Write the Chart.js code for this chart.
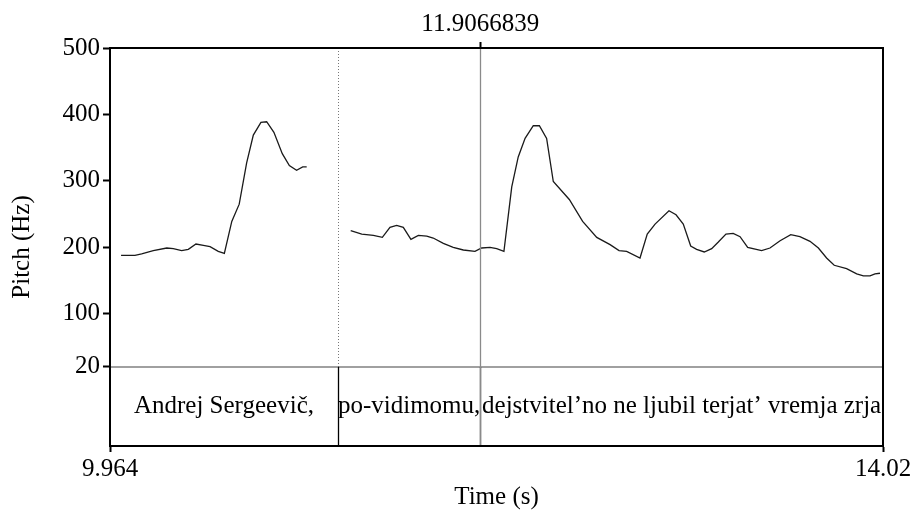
<!DOCTYPE html>
<html>
<head>
<meta charset="utf-8">
<script src="https://cdn.jsdelivr.net/npm/chart.js@4"></script>
<style>
    html, body { margin: 0; padding: 0; background: #fff; }
    canvas { display: block; }
</style>
</head>
<body>
<canvas id="pitch-chart" width="915" height="512"></canvas>
<script>
// Pitch contour, first voiced stretch (s, Hz)
const seg1Times = [10.022, 10.095, 10.130, 10.191, 10.262, 10.296, 10.340, 10.375, 10.415, 10.454,
    10.489, 10.532, 10.564, 10.603, 10.642, 10.681, 10.716, 10.756, 10.786, 10.824,
    10.868, 10.905, 10.943, 10.975, 10.996];
const seg1Pitch = [188, 188, 190, 195, 199, 198, 195, 197, 205, 203,
    201, 194, 191, 239, 265, 327, 369, 388, 389, 373,
    341, 323, 316, 321, 321];

// Second voiced stretch
const seg2Times = [11.227, 11.285, 11.346, 11.393, 11.433, 11.468, 11.503, 11.543, 11.582, 11.626,
    11.660, 11.713, 11.765, 11.818, 11.879, 11.914, 11.958, 11.993, 12.031, 12.072,
    12.106, 12.142, 12.185, 12.217, 12.255, 12.290, 12.374, 12.444, 12.518, 12.588,
    12.635, 12.675, 12.745, 12.783, 12.824, 12.897, 12.934, 12.972, 13.011, 13.042,
    13.082, 13.121, 13.156, 13.196, 13.234, 13.270, 13.310, 13.383, 13.427, 13.480,
    13.536, 13.584, 13.637, 13.681, 13.724, 13.764, 13.829, 13.882, 13.917, 13.952,
    13.978, 14.004];
const seg2Pitch = [225, 220, 218, 215, 230, 233, 230, 212, 218, 217,
    214, 206, 200, 196, 194, 199, 200, 198, 194, 291,
    336, 364, 383, 383, 364, 299, 272, 239, 215, 204,
    195, 194, 184, 220, 235, 255, 249, 235, 202, 197,
    193, 198, 208, 220, 221, 216, 200, 195, 199, 210,
    219, 216, 209, 199, 184, 173, 168, 160, 157, 157,
    160, 161];

// Axes
const xMin = 9.964;
const xMax = 14.02;
const xTickLabels = ['9.964', '14.02'];
const yTicks = [20, 100, 200, 300, 400, 500];
const yMin = -99;   // room below 20 Hz for the text tier
const yMax = 500;
const cursorTime = 11.9066839;
const cursorLabel = '11.9066839';

// Text tier
const tierBounds = [9.964, 11.160, 11.9067, 14.02];
const tierLabels = ['Andrej Sergeevič,', 'po-vidimomu,', 'dejstvitel’no ne ljubil terjat’ vremja zrja'];

const FAMILY = '"Liberation Serif", "Times New Roman", serif';
const FONT = { family: FAMILY, size: 25 };
const TIER_FONT_SIZE = 25;

function toPoints(times, values) {
    return times.map((t, i) => ({ x: t, y: values[i] }));
}

// Draws the frame, the 20 Hz line, the boundaries, the cursor and the tier text
const praatOverlay = {
    id: 'praatOverlay',
    afterDatasetsDraw(chart) {
        const { ctx, chartArea: a, scales } = chart;
        const xs = scales.x;
        const ys = scales.y;
        const y20 = ys.getPixelForValue(20);
        ctx.save();

        // 20 Hz divider
        ctx.strokeStyle = '#808080';
        ctx.lineWidth = 1.5;
        ctx.beginPath();
        ctx.moveTo(a.left, y20);
        ctx.lineTo(a.right, y20);
        ctx.stroke();

        // interval boundaries (inner ones only)
        tierBounds.slice(1, -1).forEach(t => {
            const px = Math.round(xs.getPixelForValue(t)) + 0.5;
            ctx.strokeStyle = '#777';
            ctx.lineWidth = 1;
            ctx.setLineDash([1, 2]);
            ctx.beginPath();
            ctx.moveTo(px, a.top);
            ctx.lineTo(px, y20);
            ctx.stroke();
            ctx.setLineDash([]);
            ctx.strokeStyle = '#000';
            ctx.lineWidth = 1.3;
            ctx.beginPath();
            ctx.moveTo(px, y20);
            ctx.lineTo(px, a.bottom);
            ctx.stroke();
        });

        // cursor
        const cx = Math.round(xs.getPixelForValue(cursorTime)) + 0.5;
        ctx.strokeStyle = '#8a8a8a';
        ctx.lineWidth = 1.3;
        ctx.beginPath();
        ctx.moveTo(cx, a.top);
        ctx.lineTo(cx, a.bottom);
        ctx.stroke();

        // tier labels
        ctx.fillStyle = '#000';
        ctx.font = `${TIER_FONT_SIZE}px ${FAMILY}`;
        ctx.textAlign = 'center';
        ctx.textBaseline = 'middle';
        const ty = (y20 + a.bottom) / 2;
        tierLabels.forEach((label, i) => {
            const mid = (tierBounds[i] + tierBounds[i + 1]) / 2;
            ctx.fillText(label, xs.getPixelForValue(mid), ty);
        });

        // frame
        ctx.strokeStyle = '#000';
        ctx.lineWidth = 2;
        ctx.strokeRect(a.left, a.top, a.right - a.left, a.bottom - a.top);
        ctx.restore();
    }
};

const lineStyle = {
    borderColor: '#1a1a1a',
    borderWidth: 1.3,
    pointRadius: 0,
    showLine: true,
    tension: 0,
    fill: false
};

new Chart(document.getElementById('pitch-chart').getContext('2d'), {
    type: 'scatter',
    data: {
        datasets: [
            { label: 'Pitch 1', data: toPoints(seg1Times, seg1Pitch), ...lineStyle },
            { label: 'Pitch 2', data: toPoints(seg2Times, seg2Pitch), ...lineStyle }
        ]
    },
    options: {
        responsive: false,
        animation: false,
        devicePixelRatio: 1,
        layout: { padding: { left: 0, right: 32, top: 0, bottom: 0 } },
        plugins: {
            legend: { display: false },
            tooltip: { enabled: false }
        },
        scales: {
            x: {
                type: 'linear',
                position: 'bottom',
                min: xMin,
                max: xMax,
                afterBuildTicks: s => { s.ticks = [{ value: xMin }, { value: xMax }]; },
                afterFit: s => { s.height = 66; },
                ticks: {
                    font: FONT,
                    color: '#000',
                    padding: 2,
                    autoSkip: false,
                    maxRotation: 0,
                    callback: (v, i) => xTickLabels[i]
                },
                grid: { drawOnChartArea: false, tickLength: 6, tickColor: '#000', tickWidth: 2 },
                border: { color: '#000', width: 2 },
                title: { display: true, text: 'Time (s)', font: FONT, color: '#000', padding: { top: 0, bottom: 0 } }
            },
            x2: {
                type: 'linear',
                position: 'top',
                min: xMin,
                max: xMax,
                afterBuildTicks: s => { s.ticks = [{ value: cursorTime }]; },
                afterFit: s => { s.height = 48; },
                ticks: {
                    font: FONT,
                    color: '#000',
                    padding: 3,
                    autoSkip: false,
                    maxRotation: 0,
                    callback: () => cursorLabel
                },
                grid: { drawOnChartArea: false, tickLength: 6, tickColor: '#000', tickWidth: 2 },
                border: { color: '#000', width: 2 }
            },
            y: {
                type: 'linear',
                min: yMin,
                max: yMax,
                afterBuildTicks: s => { s.ticks = yTicks.map(v => ({ value: v })); },
                afterFit: s => { s.width = 110; },
                ticks: {
                    font: FONT,
                    color: '#000',
                    padding: 3,
                    autoSkip: false,
                    callback: v => String(v)
                },
                grid: { drawOnChartArea: false, tickLength: 7, tickColor: '#000', tickWidth: 2 },
                border: { color: '#000', width: 2 },
                title: { display: true, text: 'Pitch (Hz)', font: FONT, color: '#000', padding: { top: 7, bottom: 0 } }
            }
        }
    },
    plugins: [praatOverlay]
});
</script>
</body>
</html>
